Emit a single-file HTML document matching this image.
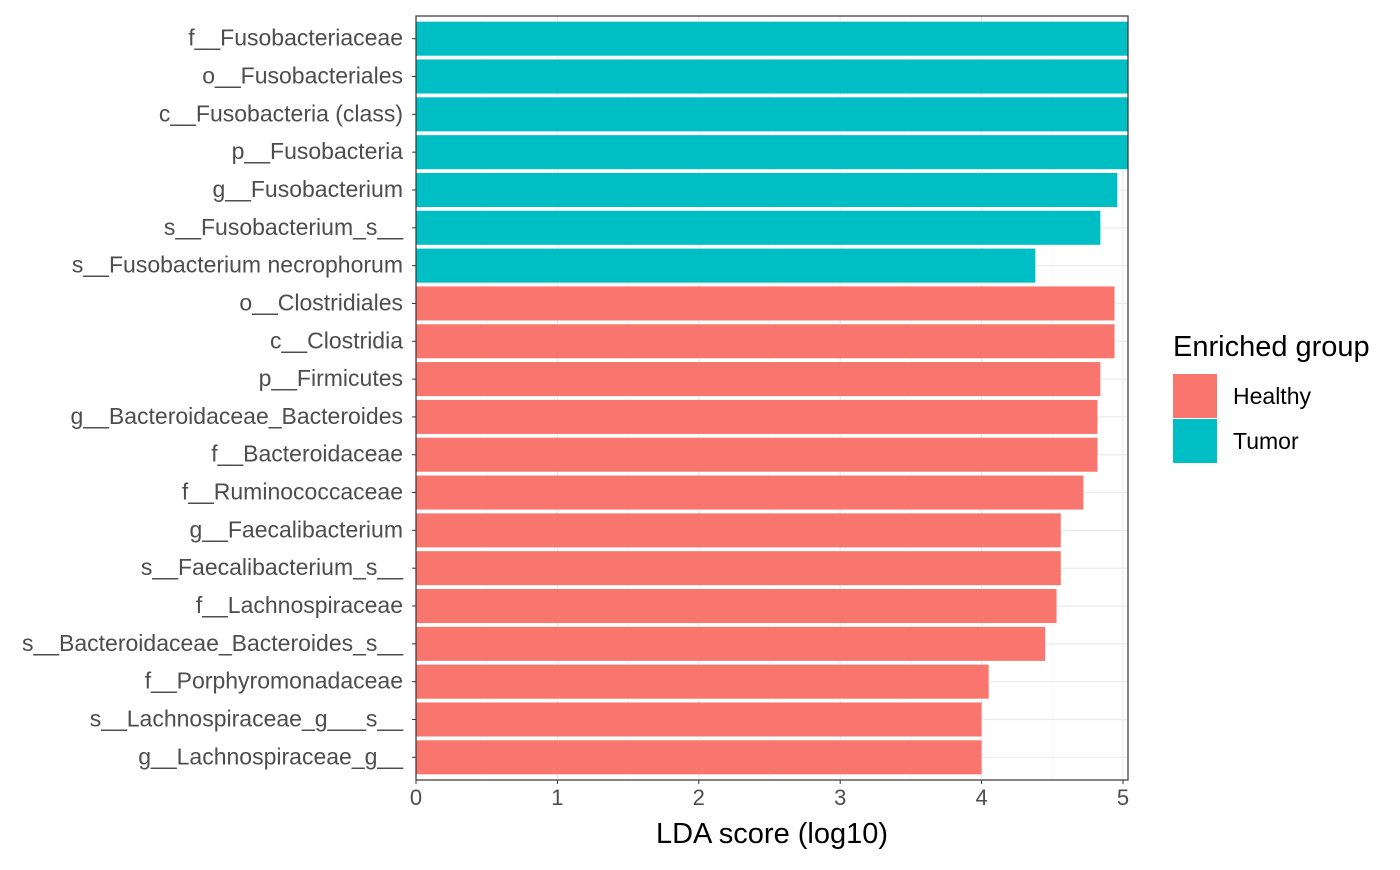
<!DOCTYPE html>
<html><head><meta charset="utf-8"><style>
body{margin:0;background:#fff;font-family:"Liberation Sans",Arial,sans-serif}
</style></head><body>
<svg id="chart" width="1400" height="865" xmlns="http://www.w3.org/2000/svg" font-family="Liberation Sans, Arial, sans-serif"></svg>
<script>
const categories=["f__Fusobacteriaceae","o__Fusobacteriales","c__Fusobacteria (class)","p__Fusobacteria","g__Fusobacterium","s__Fusobacterium_s__","s__Fusobacterium necrophorum","o__Clostridiales","c__Clostridia","p__Firmicutes","g__Bacteroidaceae_Bacteroides","f__Bacteroidaceae","f__Ruminococcaceae","g__Faecalibacterium","s__Faecalibacterium_s__","f__Lachnospiraceae","s__Bacteroidaceae_Bacteroides_s__","f__Porphyromonadaceae","s__Lachnospiraceae_g___s__","g__Lachnospiraceae_g__"];
const values=[5.1,5.1,5.1,5.1,4.96,4.84,4.38,4.94,4.94,4.84,4.82,4.82,4.72,4.56,4.56,4.53,4.45,4.05,4.0,4.0];
const groups=["Tumor","Tumor","Tumor","Tumor","Tumor","Tumor","Tumor","Healthy","Healthy","Healthy","Healthy","Healthy","Healthy","Healthy","Healthy","Healthy","Healthy","Healthy","Healthy","Healthy"];
const xTicks=[0,1,2,3,4,5];
const colors={Healthy:"#F8766D",Tumor:"#00BFC4"};
const NS="http://www.w3.org/2000/svg";
const svg=document.getElementById('chart');
const L=416,R=1128,T=16,B=780;
const x=v=>L+v*141.4;
const step=(B-T)/(categories.length-1+1.2);
const y=i=>T+step*(0.6+i);
function mk(t,a,p){const e=document.createElementNS(NS,t);for(const k in a)e.setAttribute(k,a[k]);(p||svg).appendChild(e);return e;}
const defs=mk('defs',{});const cp=mk('clipPath',{id:'pc'},defs);mk('rect',{x:L,y:T,width:R-L,height:B-T},cp);
const grid=mk('g',{});


for(let v=0.5;v<5.1;v+=1)mk('line',{x1:x(v),x2:x(v),y1:T,y2:B,stroke:'#f2f2f2','stroke-width':0.6},grid);
xTicks.forEach(v=>mk('line',{x1:x(v),x2:x(v),y1:T,y2:B,stroke:'#ebebeb','stroke-width':1.2},grid));
categories.forEach((c,i)=>mk('line',{x1:L,x2:R,y1:y(i),y2:y(i),stroke:'#ebebeb','stroke-width':1.2},grid));
const bars=mk('g',{'clip-path':'url(#pc)'});
categories.forEach((c,i)=>{
 const r=mk('rect',{x:x(0),y:y(i)-step*0.45,width:x(values[i])-x(0),height:step*0.9,fill:colors[groups[i]]},bars);
 
 
 const t=mk('text',{x:L-13,y:y(i)+7,'text-anchor':'end','font-size':23,fill:'#4d4d4d'});t.textContent=c;
 
 
 mk('line',{x1:L-4,x2:L,y1:y(i),y2:y(i),stroke:'#333','stroke-width':1});
});
const border=mk('rect',{x:L,y:T,width:R-L,height:B-T,fill:'none',stroke:'#333','stroke-width':1.2});


xTicks.forEach(v=>{
 mk('line',{x1:x(v),x2:x(v),y1:B,y2:B+4,stroke:'#333','stroke-width':1});
 const t=mk('text',{x:x(v),y:B+25,'text-anchor':'middle','font-size':22,fill:'#4d4d4d'});t.textContent=v;
 
 
});
const xt=mk('text',{x:(L+R)/2,y:843,'text-anchor':'middle','font-size':29,fill:'#000'});xt.textContent='LDA score (log10)';


const lg=mk('g',{});


const lt=mk('text',{x:1173,y:356,'font-size':29,fill:'#000'},lg);lt.textContent='Enriched group';
[["Healthy",374],["Tumor",419]].forEach(([g,yy])=>{
 const r=mk('rect',{x:1173,y:yy,width:44,height:44,fill:colors[g]},lg);
 
 
 const t=mk('text',{x:1233,y:yy+30,'font-size':23,fill:'#000'},lg);t.textContent=g;
 
 
});
</script>
</body></html>
